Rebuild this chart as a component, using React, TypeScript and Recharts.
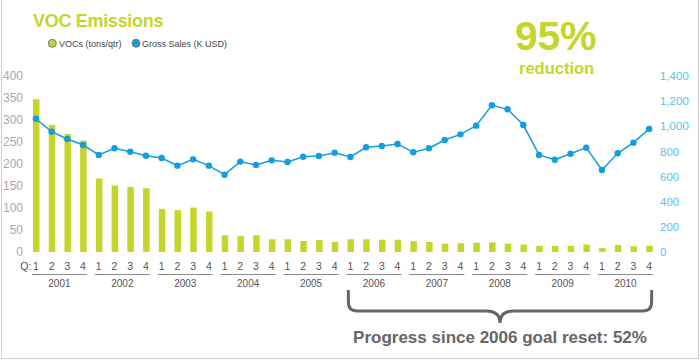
import React from 'react';
import { ComposedChart, Bar, Line, XAxis, YAxis } from 'recharts';

const years = ['2001', '2002', '2003', '2004', '2005', '2006', '2007', '2008', '2009', '2010'];
const quarters = ['1', '2', '3', '4'];
const vocTons = [
  347, 289, 268, 253, 167, 151, 148, 145, 98, 95, 101, 92, 38, 36, 38, 29, 29, 25, 27, 23,
  29, 29, 28, 28, 25, 23, 19, 20, 21, 22, 19, 17, 14, 14, 14, 17, 9, 16, 13, 14,
];
const grossSales = [
  1060, 957, 899, 851, 772, 825, 798, 766, 748, 687, 737, 687, 615, 719, 692, 729, 716, 758, 764, 790,
  756, 833, 843, 859, 793, 825, 891, 936, 1005, 1167, 1135, 1010, 772, 734, 782, 830, 652, 785, 870, 979,
];
const leftTicks = [0, 50, 100, 150, 200, 250, 300, 350, 400];
const rightTicks = [0, 200, 400, 600, 800, 1000, 1200, 1400];
const bracketStartYear = '2006';
const bracketEndYear = '2010';
const bracketLabel = 'Progress since 2006 goal reset: 52%';

const data = years.flatMap((y, yi) =>
  quarters.map((q, qi) => {
    const i = yi * 4 + qi;
    return { key: `${y}-Q${q}`, year: y, q, voc: vocTons[i], sales: grossSales[i] };
  })
);

const W = 700;
const H = 360;
const LEFT_W = 28;
const RIGHT_W = 43;
const STEP = (W - LEFT_W - RIGHT_W) / data.length;
const GREEN = '#c5d52c';
const BLUE = '#149ddf';
const LIGHT_BLUE = '#5bbfe9';
const FONT = '"Liberation Sans", Arial, Helvetica, sans-serif';

const QuarterTick = (props: any) => {
  const { x, index } = props;
  const d = data[index];
  if (!d) return null;
  const qRowY = 270;
  const lineY = 274.5;
  const yearY = 287;
  let x1 = x - STEP / 2;
  let x2 = x + STEP / 2;
  if (d.q === '1') x1 = x - 4;
  if (d.q === '4') x2 = x + 4;
  const endIdx = data.findIndex((e) => e.year === bracketEndYear && e.q === '4');
  return (
    <g>
      {index === 0 && (
        <text x={x - 10} y={qRowY} fontSize={10.5} fill="#555" textAnchor="middle">Q:</text>
      )}
      <text x={x} y={qRowY} fontSize={10.5} fill="#555" textAnchor="middle">{d.q}</text>
      <line x1={x1} x2={x2} y1={lineY} y2={lineY} stroke="#8a8a8a" strokeWidth={1} />
      {d.q === '2' && (
        <text x={x + STEP / 2} y={yearY} fontSize={10} fill="#555" textAnchor="middle">{d.year}</text>
      )}
      {d.year === bracketStartYear && d.q === '1' && (() => {
        const L = x - 2;
        const R = x + (endIdx - index) * STEP + 2.5;
        const C = (L + R) / 2;
        const top = 290;
        const hy = 311;
        const tip = 323;
        const path = `M ${L} ${top} V ${hy - 9} Q ${L} ${hy} ${L + 9} ${hy} H ${C - 14} Q ${C} ${hy} ${C} ${tip} Q ${C} ${hy} ${C + 14} ${hy} H ${R - 9} Q ${R} ${hy} ${R} ${hy - 9} V ${top}`;
        return (
          <g>
            <path d={path} fill="none" stroke="#666" strokeWidth={3} />
            <text x={C} y={343} fontSize={17} fontWeight="bold" fill="#666" textAnchor="middle">{bracketLabel}</text>
          </g>
        );
      })()}
    </g>
  );
};

export default function App() {
  return (
    <div style={{ position: 'absolute', left: 0, top: 0, width: W, height: H, fontFamily: FONT, background: '#fff' }}>
      <ComposedChart width={W} height={H} data={data} margin={{ top: 76, right: 0, bottom: 48, left: 0 }}>
        <XAxis
          dataKey="key"
          interval={0}
          height={60}
          axisLine={false}
          tickLine={false}
          tick={(p: any) => <QuarterTick {...p} />}
          padding={{ left: 0, right: 0 }}
        />
        <YAxis
          yAxisId="l"
          orientation="left"
          width={LEFT_W}
          domain={[0, 400]}
          ticks={leftTicks}
          interval={0}
          axisLine={false}
          tickLine={false}
          tickSize={0}
          tickMargin={5}
          tick={{ fill: '#a8a8a8', fontSize: 12 }}
        />
        <YAxis
          yAxisId="r"
          orientation="right"
          width={RIGHT_W}
          domain={[0, 1400]}
          ticks={rightTicks}
          interval={0}
          axisLine={false}
          tickLine={false}
          tickSize={0}
          tickMargin={3}
          tick={{ fill: LIGHT_BLUE, fontSize: 11.5 }}
          tickFormatter={(v: number) => v.toLocaleString('en-US')}
        />
        <Bar yAxisId="l" dataKey="voc" fill={GREEN} barSize={6.5} isAnimationActive={false} />
        <Line
          yAxisId="r"
          type="linear"
          dataKey="sales"
          stroke={BLUE}
          strokeWidth={1.5}
          dot={{ r: 3.2, fill: BLUE, stroke: BLUE, strokeWidth: 0 }}
          activeDot={false}
          isAnimationActive={false}
        />
      </ComposedChart>
      <svg width={W} height={H} style={{ position: 'absolute', left: 0, top: 0, pointerEvents: 'none' }}>
        <line x1={1.5} y1={0} x2={1.5} y2={358.5} stroke="#cfcfcf" />
        <line x1={698.5} y1={0} x2={698.5} y2={358.5} stroke="#cfcfcf" />
        <line x1={1.5} y1={358.5} x2={698.5} y2={358.5} stroke="#cfcfcf" />
        <text x={33} y={26.5} fontSize={18} fontWeight="bold" fill={GREEN} letterSpacing={-0.3}>VOC Emissions</text>
        <circle cx={52.3} cy={43.3} r={4} fill={GREEN} stroke="#777" strokeWidth={1} />
        <text x={59} y={46.5} fontSize={9} fill="#444">VOCs (tons/qtr)</text>
        <circle cx={136} cy={43.3} r={4} fill={BLUE} stroke="#777" strokeWidth={1} />
        <text x={142} y={46.5} fontSize={9} fill="#444">Gross Sales (K USD)</text>
        <text x={515} y={50} fontSize={41} fontWeight="bold" fill={GREEN} letterSpacing={-0.3}>95%</text>
        <text x={519} y={74} fontSize={16.5} fontWeight="bold" fill={GREEN}>reduction</text>
      </svg>
    </div>
  );
}
